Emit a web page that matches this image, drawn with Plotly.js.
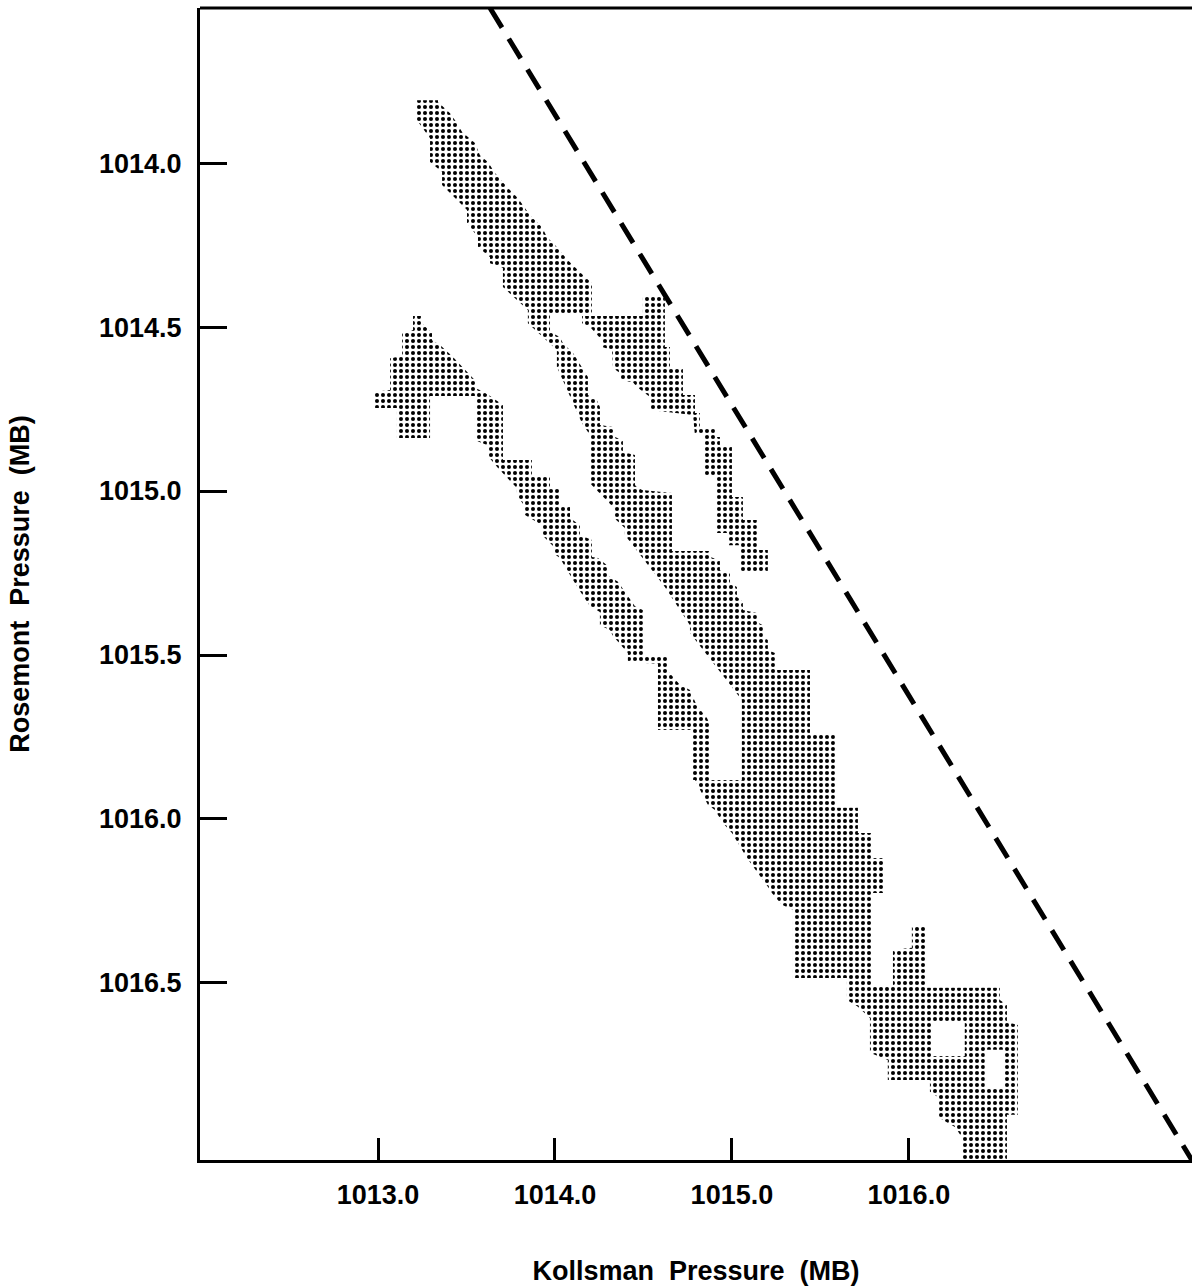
<!DOCTYPE html>
<html>
<head>
<meta charset="utf-8">
<script src="https://cdn.plot.ly/plotly-3.0.1.min.js"></script>
<style>html,body{margin:0;padding:0;background:#fff;}#chart{width:1192px;height:1287px;}</style>
</head>
<body>
<div id="chart"></div>
<script>
// Axis ticks
const xTicks = [1013.0, 1014.0, 1015.0, 1016.0];
const xTickText = ['1013.0', '1014.0', '1015.0', '1016.0'];
const yTicks = [1014.0, 1014.5, 1015.0, 1015.5, 1016.0, 1016.5];
const yTickText = ['1014.0', '1014.5', '1015.0', '1015.5', '1016.0', '1016.5'];

// Reference (dashed) line, Kollsman vs Rosemont (MB)
const refLineX = [1013.633, 1017.599];
const refLineY = [1013.527, 1017.040];

// Occupied region outlines (MB): upper band + central band + lower cluster (with two holes)
const upperBandX = [1013.220,1013.220,1013.294,1013.294,1013.362,1013.362,1013.503,1013.503,1013.565,1013.565,1013.633,1013.633,1013.706,1013.706,1013.847,1013.847,1014.011,1014.011,1014.153,1014.198,1014.198,1014.328,1014.328,1014.395,1014.395,1014.621,1014.763,1014.763,1015.056,1015.056,1014.791,1014.864,1014.904,1014.949,1015.000,1015.062,1015.085,1015.203,1015.226,1015.282,1015.345,1015.345,1015.650,1015.650,1015.712,1015.780,1015.780,1015.881,1015.881,1016.119,1016.119,1016.164,1016.164,1016.260,1016.299,1016.299,1016.554,1016.554,1016.616,1016.616,1016.554,1016.554,1016.514,1016.514,1016.102,1016.102,1016.017,1016.017,1015.910,1015.910,1015.791,1015.791,1015.864,1015.864,1015.791,1015.791,1015.712,1015.712,1015.582,1015.582,1015.441,1015.441,1015.243,1015.243,1015.203,1015.203,1015.175,1015.175,1015.141,1015.141,1015.062,1015.062,1015.028,1015.028,1014.989,1014.989,1014.932,1014.932,1014.876,1014.876,1014.661,1014.661,1014.492,1014.452,1014.452,1014.384,1014.384,1014.339,1014.328,1014.254,1014.254,1014.237,1014.186,1014.186,1014.153,1014.102,1014.045,1014.028,1013.972,1013.972,1014.209,1014.209,1014.158,1014.073,1014.000,1013.955,1013.927,1013.859,1013.791,1013.729,1013.661,1013.621,1013.576,1013.548,1013.475,1013.446,1013.407,1013.339,1013.339,
  null, 1016.136,1016.316,1016.316,1016.136,
  null, 1016.429,1016.537,1016.537,1016.429];
const upperBandY = [1013.808,1013.869,1013.924,1013.997,1014.027,1014.067,1014.143,1014.183,1014.226,1014.256,1014.287,1014.305,1014.320,1014.378,1014.448,1014.488,1014.570,1014.622,1014.793,1014.829,1014.976,1015.049,1015.079,1015.113,1015.134,1015.293,1015.409,1015.433,1015.637,1015.881,1015.881,1015.957,1015.973,1016.012,1016.043,1016.101,1016.119,1016.207,1016.226,1016.262,1016.277,1016.485,1016.485,1016.552,1016.573,1016.607,1016.713,1016.735,1016.796,1016.796,1016.832,1016.848,1016.909,1016.939,1016.970,1017.040,1017.040,1016.902,1016.902,1016.628,1016.619,1016.567,1016.552,1016.515,1016.515,1016.329,1016.329,1016.393,1016.399,1016.509,1016.509,1016.226,1016.226,1016.119,1016.119,1016.043,1016.043,1015.966,1015.966,1015.744,1015.744,1015.546,1015.546,1015.494,1015.485,1015.454,1015.445,1015.409,1015.399,1015.372,1015.363,1015.338,1015.323,1015.293,1015.280,1015.250,1015.241,1015.210,1015.201,1015.183,1015.183,1015.006,1014.997,1014.982,1014.890,1014.881,1014.845,1014.835,1014.805,1014.799,1014.744,1014.723,1014.707,1014.652,1014.622,1014.579,1014.549,1014.530,1014.515,1014.463,1014.463,1014.366,1014.341,1014.296,1014.250,1014.226,1014.195,1014.159,1014.107,1014.073,1014.030,1013.997,1013.976,1013.939,1013.905,1013.878,1013.848,1013.814,1013.808,
  null, 1016.616,1016.616,1016.723,1016.723,
  null, 1016.704,1016.704,1016.823,1016.823];

// Right branch
const rightBranchX = [1014.497,1014.621,1014.621,1014.650,1014.650,1014.723,1014.723,1014.791,1014.791,1014.819,1014.819,1014.904,1014.904,1014.932,1014.932,1015.000,1015.000,1015.062,1015.062,1015.141,1015.141,1015.203,1015.203,1015.045,1015.045,1014.977,1014.977,1014.915,1014.915,1014.847,1014.847,1014.791,1014.780,1014.537,1014.537,1014.463,1014.441,1014.367,1014.367,1014.328,1014.322,1014.266,1014.266,1014.198,1014.153,1014.153,1014.497];
const rightBranchY = [1014.402,1014.402,1014.561,1014.561,1014.622,1014.622,1014.707,1014.707,1014.762,1014.762,1014.805,1014.805,1014.835,1014.835,1014.866,1014.866,1015.018,1015.018,1015.088,1015.088,1015.180,1015.180,1015.250,1015.250,1015.165,1015.165,1015.128,1015.128,1014.951,1014.951,1014.829,1014.829,1014.768,1014.753,1014.713,1014.683,1014.668,1014.662,1014.640,1014.625,1014.570,1014.561,1014.540,1014.500,1014.488,1014.466,1014.466];

// Lower band
const lowerBandX = [1013.198,1013.249,1013.249,1013.305,1013.305,1013.350,1013.418,1013.480,1013.548,1013.548,1013.588,1013.633,1013.706,1013.706,1013.870,1013.870,1013.972,1013.972,1014.028,1014.028,1014.085,1014.085,1014.141,1014.141,1014.209,1014.209,1014.243,1014.294,1014.294,1014.356,1014.407,1014.452,1014.497,1014.497,1014.633,1014.633,1014.706,1014.763,1014.802,1014.859,1014.876,1014.876,1014.780,1014.780,1014.582,1014.582,1014.412,1014.412,1014.328,1014.311,1014.254,1014.254,1014.198,1014.130,1014.068,1014.028,1013.989,1013.989,1013.927,1013.927,1013.831,1013.831,1013.785,1013.785,1013.678,1013.616,1013.616,1013.548,1013.548,1013.294,1013.294,1013.107,1013.107,1012.972,1012.972,1013.068,1013.068,1013.136,1013.136,1013.198];
const lowerBandY = [1014.466,1014.466,1014.488,1014.518,1014.540,1014.555,1014.588,1014.622,1014.662,1014.686,1014.695,1014.710,1014.738,1014.905,1014.905,1014.951,1014.951,1014.988,1014.988,1015.049,1015.049,1015.082,1015.104,1015.134,1015.149,1015.201,1015.204,1015.226,1015.256,1015.277,1015.317,1015.351,1015.363,1015.506,1015.506,1015.546,1015.591,1015.607,1015.655,1015.692,1015.713,1015.881,1015.881,1015.729,1015.729,1015.527,1015.521,1015.494,1015.442,1015.424,1015.409,1015.369,1015.351,1015.296,1015.241,1015.204,1015.189,1015.168,1015.134,1015.104,1015.073,1015.049,1015.012,1014.991,1014.930,1014.890,1014.860,1014.845,1014.710,1014.710,1014.838,1014.838,1014.747,1014.747,1014.698,1014.692,1014.595,1014.588,1014.518,1014.509];

const dotPattern = {shape: '.', size: 6, solidity: 0.36, fgcolor: '#000000', bgcolor: 'rgba(0,0,0,0)', fillmode: 'replace'};

function region(x, y, name) {
  return {
    type: 'scatter', mode: 'lines', x: x, y: y, name: name,
    fill: 'toself', fillcolor: 'rgba(0,0,0,0)', fillpattern: dotPattern,
    line: {width: 0, color: 'rgba(0,0,0,0)'},
    hoverinfo: 'skip', showlegend: false
  };
}

const traces = [
  region(upperBandX, upperBandY, 'upper band'),
  region(rightBranchX, rightBranchY, 'right branch'),
  region(lowerBandX, lowerBandY, 'lower band'),
  {
    type: 'scatter', mode: 'lines', x: refLineX, y: refLineY, name: 'reference',
    line: {color: '#000', width: 5, dash: '23px,13px'},
    hoverinfo: 'skip', showlegend: false
  }
];

const tickFont = {family: 'Liberation Sans, Arial, sans-serif', size: 27, color: '#000', weight: 'bold'};
const titleFont = {family: 'Liberation Sans, Arial, sans-serif', size: 27, color: '#000', weight: 'bold'};

const layout = {
  width: 1192, height: 1287,
  margin: {l: 200, r: 0, t: 8, b: 127, pad: 0},
  paper_bgcolor: '#fff', plot_bgcolor: '#fff',
  showlegend: false,
  xaxis: {
    range: [1011.994, 1017.6], tickvals: xTicks, ticktext: xTickText,
    ticks: 'inside', ticklen: 22, tickwidth: 3, tickcolor: '#000',
    showline: true, linewidth: 3, linecolor: '#000',
    showgrid: false, zeroline: false, tickfont: tickFont, ticklabelstandoff: 9,
    title: {text: 'Kollsman  Pressure  (MB)', font: titleFont, standoff: 52}
  },
  yaxis: {
    range: [1017.04, 1013.527], tickvals: yTicks, ticktext: yTickText,
    ticks: 'inside', ticklen: 27, tickwidth: 3, tickcolor: '#000',
    showline: true, linewidth: 3, linecolor: '#000',
    showgrid: false, zeroline: false, tickfont: tickFont, ticklabelstandoff: 10,
    title: {text: 'Rosemont  Pressure  (MB)', font: titleFont, standoff: 62}
  },
  shapes: [
    {type: 'line', xref: 'paper', yref: 'paper', x0: 0, x1: 1, y0: 1, y1: 1, line: {color: '#000', width: 3}}
  ]
};

Plotly.newPlot('chart', traces, layout, {displayModeBar: false, staticPlot: true});
</script>
</body>
</html>
